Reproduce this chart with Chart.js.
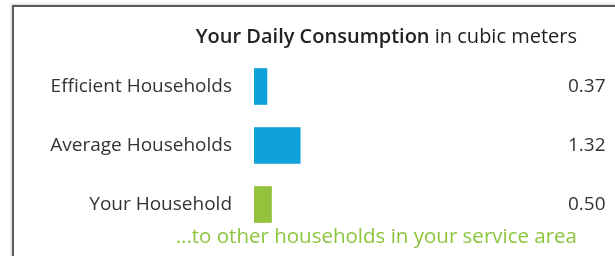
<!DOCTYPE html>
<html>
<head>
<meta charset="utf-8">
<script src="https://cdn.jsdelivr.net/npm/chart.js@4.4.1/dist/chart.umd.min.js"></script>
<style>
    html, body { margin: 0; padding: 0; background: #fff; }
    #wrap { position: relative; width: 615px; height: 256px; overflow: hidden; }
    #frame {
        position: absolute; left: 12px; top: 5px; width: 640px; height: 280px;
        border-top: 2px solid #5b5b5b; border-left: 2px solid #5b5b5b;
        box-shadow: -1px -1px 2px rgba(0, 0, 0, 0.18);
    }
    canvas { position: absolute; left: 0; top: 0; }
</style>
</head>
<body>
<div id="wrap">
    <div id="frame"></div>
    <canvas id="consumptionChart" width="615" height="256"></canvas>
</div>
<script>
var categories = ['Efficient Households', 'Average Households', 'Your Household'];
var consumption = [0.37, 1.32, 0.50];
var valueLabels = ['0.37', '1.32', '0.50'];
var barColors = ['#0fa1da', '#0fa1da', '#94c23c'];
var titleBold = 'Your Daily Consumption';
var titleRest = ' in cubic meters';
var footerText = '...to other households in your service area';

var fontFamily = '"Open Sans", sans-serif';

// title is half bold, half normal, so draw it by hand
var textPlugin = {
    id: 'headerFooter',
    afterDraw: function (chart) {
        var ctx = chart.ctx;
        ctx.save();
        ctx.textBaseline = 'middle';
        ctx.textAlign = 'left';
        ctx.font = '600 20px ' + fontFamily;
        var w1 = ctx.measureText(titleBold).width;
        ctx.font = '20px ' + fontFamily;
        var w2 = ctx.measureText(titleRest).width;
        var x = 577 - w1 - w2;
        ctx.fillStyle = '#222';
        ctx.font = '600 20px ' + fontFamily;
        ctx.fillText(titleBold, x, 37);
        ctx.font = '20px ' + fontFamily;
        ctx.fillText(titleRest, x + w1, 37);

        ctx.textAlign = 'right';
        ctx.fillStyle = '#8cc43f';
        ctx.font = '20.5px ' + fontFamily;
        ctx.fillText(footerText, 577, 237);
        ctx.restore();
    }
};

// fixed axis widths, and no extra room for half labels at the ends
function fixWidth(w) {
    return function (scale) {
        scale.width = w;
        scale.paddingTop = 0;
        scale.paddingBottom = 0;
    };
}

var ctx = document.getElementById('consumptionChart').getContext('2d');
var chartInstance = new Chart(ctx, {
    type: 'bar',
    data: {
        labels: categories,
        datasets: [{
            data: consumption,
            backgroundColor: barColors,
            barThickness: 36
        }]
    },
    options: {
        indexAxis: 'y',
        responsive: false,
        animation: false,
        devicePixelRatio: 1,
        layout: { padding: { top: 57, bottom: 22 } },
        plugins: {
            legend: { display: false },
            tooltip: { enabled: false }
        },
        scales: {
            x: {
                display: false,
                min: 0,
                max: 8.6
            },
            y: {
                position: 'left',
                grid: { display: false, drawTicks: false },
                border: { display: false },
                ticks: {
                    padding: 22,
                    color: '#333',
                    font: { family: fontFamily, size: 19 }
                },
                afterFit: fixWidth(254)
            },
            values: {
                type: 'category',
                position: 'right',
                labels: valueLabels,
                offset: true,
                grid: { display: false, drawTicks: false },
                border: { display: false },
                ticks: {
                    padding: 13,
                    color: '#333',
                    font: { family: fontFamily, size: 19 }
                },
                afterFit: fixWidth(60)
            }
        }
    },
    plugins: [textPlugin]
});
</script>
</body>
</html>
